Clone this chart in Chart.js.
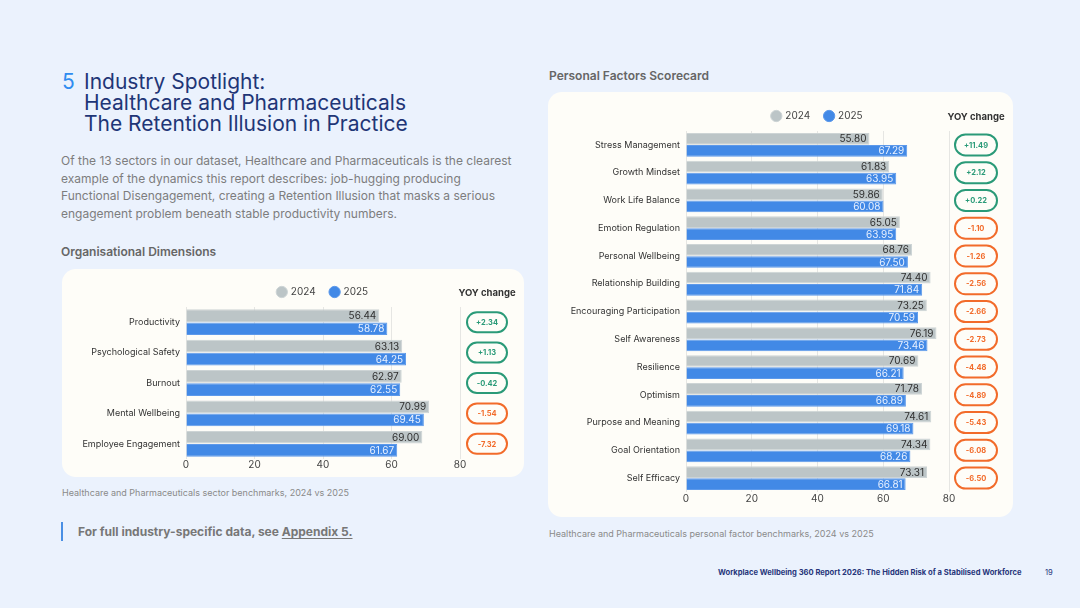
<!DOCTYPE html>
<html>
<head>
<meta charset="utf-8">
<script src="https://cdn.jsdelivr.net/npm/chart.js@4"></script>
<style>
  html, body { margin: 0; padding: 0; }
  body { width: 1080px; height: 608px; background: #ebf2fd; position: relative; overflow: hidden; font-family: Inter, "Noto Sans", sans-serif; }
  .abs { position: absolute; }
  .title { left: 62px; top: 71px; font-size: 21px; line-height: 21px; color: #1f3677; }
  .title .num { position: absolute; left: 0; top: 0; color: #2f8cf0; }
  .title .txt { position: absolute; left: 22px; top: 0; white-space: nowrap; }
  .intro { left: 61px; top: 152px; font-size: 12px; line-height: 17.6px; color: #7d7d7d; white-space: nowrap; }
  .sub { font-size: 12px; font-weight: 600; color: #666; white-space: nowrap; }
  .card { background: #fefdf8; border-radius: 14px; }
  .caption { font-size: 9px; color: #8a8a8a; white-space: nowrap; }
  .note { left: 61px; top: 522px; height: 19px; border-left: 2px solid #4a8fe4; padding-left: 15px; font-size: 12px; line-height: 19px; font-weight: 700; color: #777; white-space: nowrap; }
  .note u { text-underline-offset: 2px; }
  .footer { left: 718px; top: 568px; font-size: 7.6px; font-weight: 700; color: #26357a; white-space: nowrap; }
  .page { left: 1045px; top: 568px; font-size: 7.6px; color: #26357a; }
  canvas { display: block; }
</style>
</head>
<body>
<div class="abs title"><span class="num">5</span><span class="txt">Industry Spotlight:<br>Healthcare and Pharmaceuticals<br>The Retention Illusion in Practice</span></div>
<div class="abs intro">Of the 13 sectors in our dataset, Healthcare and Pharmaceuticals is the clearest<br>example of the dynamics this report describes: job-hugging producing<br>Functional Disengagement, creating a Retention Illusion that masks a serious<br>engagement problem beneath stable productivity numbers.</div>
<div class="abs sub" style="left:61px; top:244px;">Organisational Dimensions</div>
<div class="abs sub" style="left:549px; top:68px;">Personal Factors Scorecard</div>

<div class="abs card" style="left:62px; top:269px; width:462px; height:208px;"><canvas id="orgChart"></canvas></div>
<div class="abs card" style="left:548px; top:92px; width:465px; height:425px;"><canvas id="personalChart"></canvas></div>

<div class="abs caption" style="left:62px; top:487px;">Healthcare and Pharmaceuticals sector benchmarks, 2024 vs 2025</div>
<div class="abs caption" style="left:549px; top:528px;">Healthcare and Pharmaceuticals personal factor benchmarks, 2024 vs 2025</div>
<div class="abs note">For full industry-specific data, see <u>Appendix 5.</u></div>
<div class="abs footer">Workplace Wellbeing 360 Report 2026: The Hidden Risk of a Stabilised Workforce</div>
<div class="abs page">19</div>

<script>
// organisational dimensions
const orgLabels = ['Productivity', 'Psychological Safety', 'Burnout', 'Mental Wellbeing', 'Employee Engagement'];
const org2024 = [56.44, 63.13, 62.97, 70.99, 69.00];
const org2025 = [58.78, 64.25, 62.55, 69.45, 61.67];
const orgYoy = [2.34, 1.13, -0.42, -1.54, -7.32];

// personal factors
const personalLabels = ['Stress Management', 'Growth Mindset', 'Work Life Balance', 'Emotion Regulation',
  'Personal Wellbeing', 'Relationship Building', 'Encouraging Participation', 'Self Awareness',
  'Resilience', 'Optimism', 'Purpose and Meaning', 'Goal Orientation', 'Self Efficacy'];
const personal2024 = [55.80, 61.83, 59.86, 65.05, 68.76, 74.40, 73.25, 76.19, 70.69, 71.78, 74.61, 74.34, 73.31];
const personal2025 = [67.29, 63.95, 60.08, 63.95, 67.50, 71.84, 70.59, 73.46, 66.21, 66.89, 69.18, 68.26, 66.81];
const personalYoy = [11.49, 2.12, 0.22, -1.10, -1.26, -2.56, -2.66, -2.73, -4.48, -4.89, -5.43, -6.08, -6.50];

const years = ['2024', '2025'];
const xTicks = [0, 20, 40, 60, 80];

const GREY = '#bcc5c7';
const BLUE = '#4289e6';
const GREEN = '#2a9a78';
const ORANGE = '#f26b2a';

Chart.defaults.font.family = 'Inter, "Noto Sans", sans-serif';
Chart.defaults.color = '#444';

// value text at the end of each bar
const barValues = {
    id: 'barValues',
    afterDatasetsDraw: (chart) => {
        const ctx = chart.ctx;
        ctx.save();
        ctx.font = '10px Inter';
        ctx.textAlign = 'right';
        ctx.textBaseline = 'middle';
        chart.data.datasets.forEach((ds, di) => {
            const meta = chart.getDatasetMeta(di);
            ctx.fillStyle = di === 0 ? '#2f2f2f' : '#e9f1ff';
            meta.data.forEach((bar, i) => {
                ctx.fillText(ds.data[i].toFixed(2), bar.x - 3, bar.y + 0.5);
            });
        });
        ctx.restore();
    }
};

const roundRect = (ctx, x, y, w, h, r) => {
    ctx.beginPath();
    ctx.moveTo(x + r, y);
    ctx.lineTo(x + w - r, y);
    ctx.arc(x + w - r, y + r, r, -Math.PI / 2, Math.PI / 2);
    ctx.lineTo(x + r, y + h);
    ctx.arc(x + r, y + r, r, Math.PI / 2, Math.PI * 1.5);
    ctx.closePath();
};

// YOY change pills to the right of the plot
const yoyBadges = {
    id: 'yoyBadges',
    afterDraw: (chart, args, opts) => {
        const ctx = chart.ctx;
        const area = chart.chartArea;
        const y = chart.scales.y;
        const cx = area.right + opts.offset;
        ctx.save();
        ctx.font = 'bold 9.5px Inter';
        ctx.textAlign = 'center';
        ctx.textBaseline = 'middle';
        ctx.fillStyle = '#333';
        ctx.fillText('YOY change', cx, area.top - 14);
        opts.values.forEach((v, i) => {
            const yc = y.getPixelForValue(i);
            const color = v > -1 ? GREEN : ORANGE;
            ctx.lineWidth = 2;
            ctx.strokeStyle = color;
            roundRect(ctx, cx - opts.w / 2, yc - opts.h / 2, opts.w, opts.h, opts.h / 2);
            ctx.stroke();
            ctx.fillStyle = color;
            ctx.font = 'bold 7.5px Inter';
            ctx.fillText((v > 0 ? '+' : '') + v.toFixed(2), cx, yc + 0.5);
        });
        ctx.restore();
    }
};

const makeChart = (id, labels, d24, d25, yoy, cfg) => {
    return new Chart(document.getElementById(id), {
        type: 'bar',
        plugins: [barValues, yoyBadges],
        data: {
            labels: labels,
            datasets: [
                { label: years[0], data: d24, backgroundColor: GREY, borderColor: '#cdd4d5', borderWidth: 1 },
                { label: years[1], data: d25, backgroundColor: BLUE, borderColor: '#5d99ea', borderWidth: 1 }
            ]
        },
        options: {
            indexAxis: 'y',
            responsive: true,
            maintainAspectRatio: false,
            animation: false,
            datasets: { bar: { categoryPercentage: cfg.cat, barPercentage: 0.97 } },
            layout: { padding: cfg.padding },
            scales: {
                x: {
                    min: 0,
                    max: 80,
                    afterBuildTicks: (axis) => { axis.ticks = xTicks.map(v => ({ value: v })); },
                    grid: { color: '#e6e6e3', drawTicks: false },
                    border: { display: false },
                    ticks: { padding: cfg.tickPad, font: { size: 10 }, color: '#444' }
                },
                y: {
                    grid: { display: false, drawTicks: false },
                    border: { display: false },
                    ticks: { padding: 6, font: { size: 9 }, color: '#333' },
                    afterFit: (axis) => { axis.width = cfg.yWidth; }
                }
            },
            plugins: {
                legend: {
                    position: 'top',
                    fullSize: false,
                    labels: { usePointStyle: true, pointStyle: 'circle', boxWidth: 8, boxHeight: 8, padding: 15, font: { size: 10 }, color: '#444' }
                },
                tooltip: { enabled: false },
                yoyBadges: { values: yoy, offset: cfg.offset, w: cfg.bw, h: cfg.bh }
            }
        }
    });
};

makeChart('orgChart', orgLabels, org2024, org2025, orgYoy,
    { cat: 0.86, tickPad: 0, padding: { top: 3, left: 4, right: 64, bottom: 6 }, yWidth: 120, offset: 27, bw: 40, bh: 20 });
makeChart('personalChart', personalLabels, personal2024, personal2025, personalYoy,
    { cat: 0.87, tickPad: 1, padding: { top: 4, left: 4, right: 64, bottom: 11 }, yWidth: 134, offset: 27, bw: 42, bh: 21 });
</script>
</body>
</html>
